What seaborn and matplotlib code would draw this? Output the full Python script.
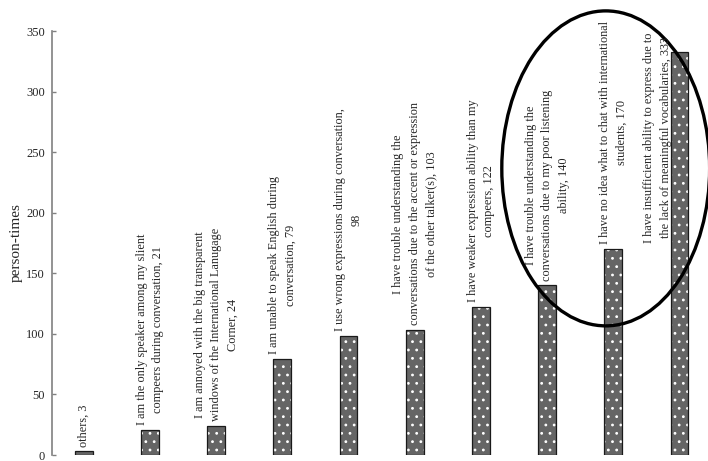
import matplotlib
matplotlib.use("Agg")
import matplotlib.pyplot as plt
import seaborn as sns
import pandas as pd
from matplotlib.patches import Ellipse

categories = [
    "others",
    "only speaker",
    "annoyed with windows",
    "unable to speak English",
    "wrong expressions",
    "accent of other talker",
    "weaker expression",
    "poor listening",
    "no idea what to chat",
    "insufficient vocabulary",
]
values = [3, 21, 24, 79, 98, 103, 122, 140, 170, 333]
labels = [
    "others, 3",
    "I am the only speaker among my slient\ncompeers during conversation, 21",
    "I am annoyed with the big transparent\nwindows of the International Lanugage\nCorner, 24",
    "I am unable to speak English during\nconversation, 79",
    "I use wrong expressions during conversation,\n98",
    "I have trouble understanding the\nconversations due to the accent or expression\nof the other talker(s), 103",
    "I have weaker expression ability than my\ncompeers, 122",
    "I have trouble understanding the\nconversations due to my poor listening\nability, 140",
    "I have no idea what to chat with international\nstudents, 170",
    "I have insufficient ability to express due to\nthe lack of meaningful vocabularies, 333",
]
y_ticks = [0, 50, 100, 150, 200, 250, 300, 350]
y_label = "person-times"

df = pd.DataFrame({"category": categories, "value": values})

sns.set_style("white")
plt.rcParams["font.family"] = ["Liberation Serif", "DejaVu Serif"]
plt.rcParams["hatch.linewidth"] = 0.8

fig = plt.figure(figsize=(7.08, 4.61), dpi=100)
ax = fig.add_axes([52 / 708, 1 - 455 / 461, 1 - 52 / 708, (455 - 31) / 461])

# patterned fill (white dots on dark grey)
sns.barplot(data=df, x="category", y="value", ax=ax, color="#656565",
            width=0.27, saturation=1, hatch="..", edgecolor="white",
            linewidth=0)
# black outline
sns.barplot(data=df, x="category", y="value", ax=ax, fill=False,
            width=0.27, edgecolor="#1a1a1a", linewidth=0.9)

ax.set_ylim(0, 350)
ax.set_xlim(-0.48, 9.43)
ax.set_yticks(y_ticks)
ax.set_yticklabels([str(t) for t in y_ticks], fontsize=9)
ax.set_xticks([])
ax.set_xlabel("")
ax.set_ylabel(y_label, fontsize=11)
ax.yaxis.set_label_coords(-0.045, 0.5)

for s in ["top", "right", "bottom"]:
    ax.spines[s].set_visible(False)
ax.spines["left"].set_color("#808080")
ax.spines["left"].set_linewidth(1.2)
ax.tick_params(axis="y", direction="in", length=3, color="#808080",
               width=1.0, pad=5, left=True)

for i, (v, lab) in enumerate(zip(values, labels)):
    if i == len(values) - 1:
        ax.text(i - 0.33, 349, lab, rotation=90, ha="center", va="top",
                multialignment="center", fontsize=8.8, linespacing=1.5)
    else:
        ax.text(i, v + 4, lab, rotation=90, ha="center", va="bottom",
                multialignment="center", fontsize=8.8, linespacing=1.5)

ell = Ellipse((7.885, 236.6), width=3.14, height=260, fill=False,
              edgecolor="black", linewidth=2.4, clip_on=False)
ax.add_patch(ell)

fig.savefig("out.png", dpi=100)
